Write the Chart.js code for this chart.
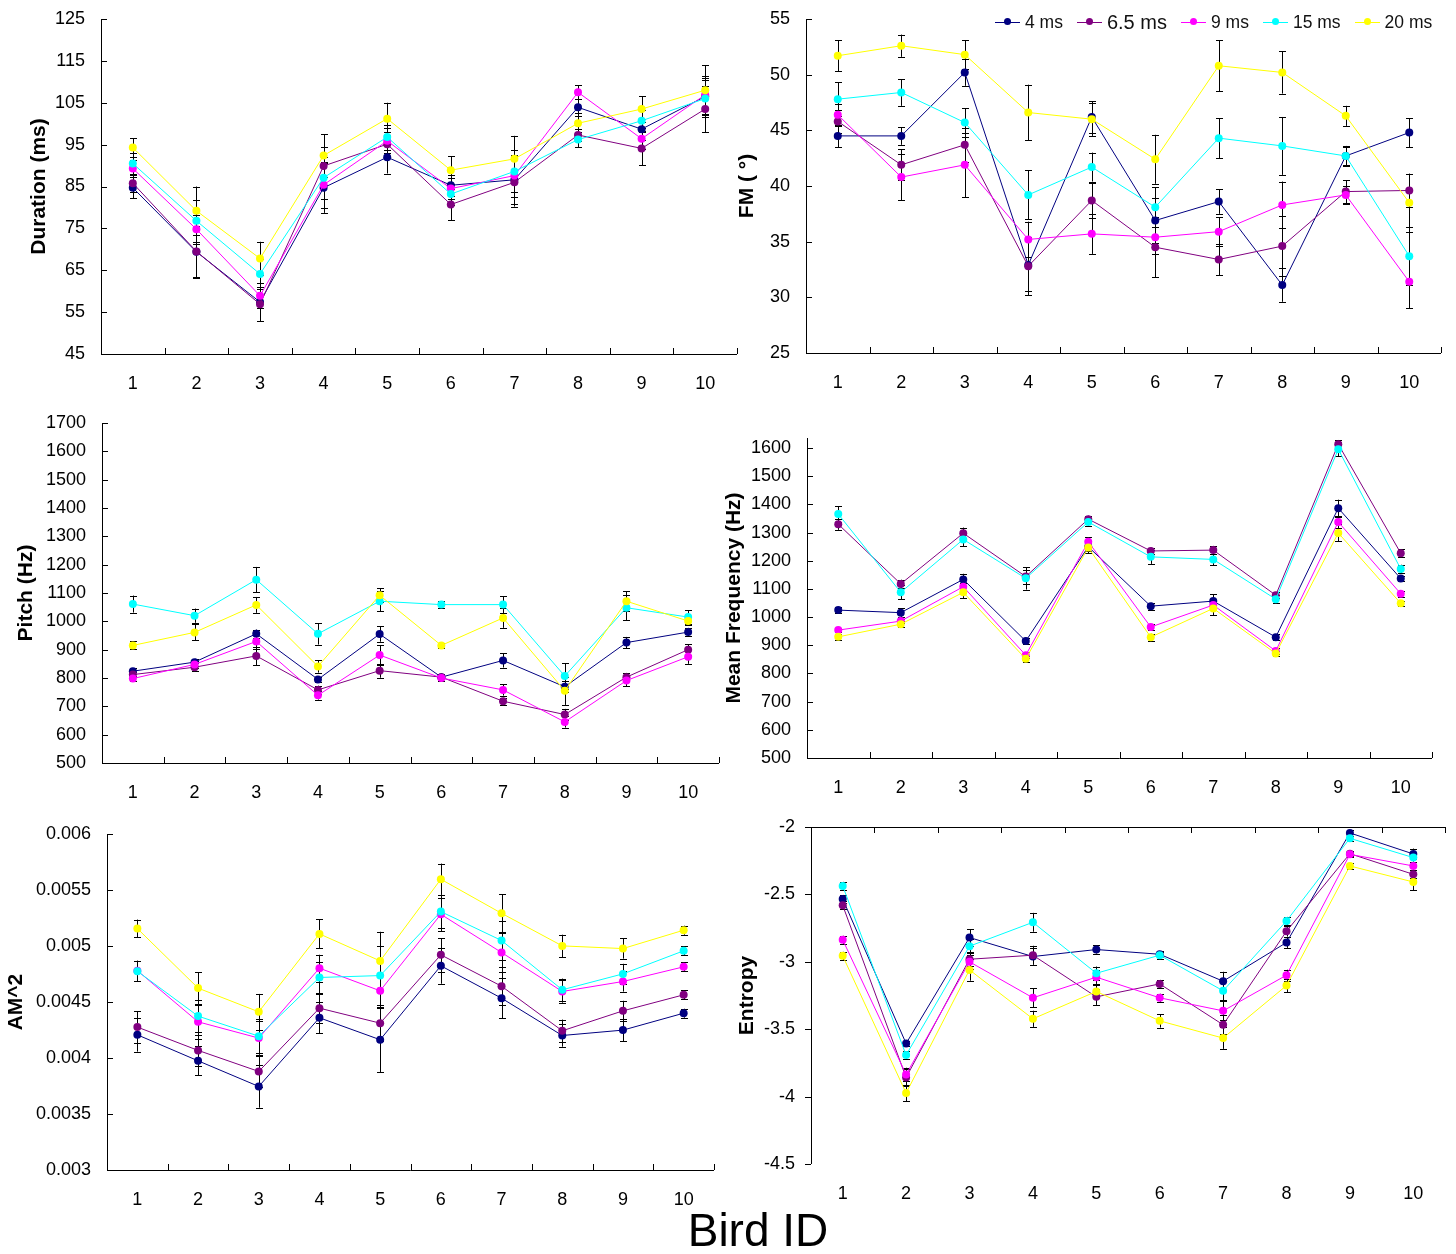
<!DOCTYPE html>
<html lang="en">
<head>
  <meta charset="UTF-8">
  <title>Song features by bird and delay</title>
  <script src="https://cdn.jsdelivr.net/npm/chart.js"></script>
  <style>
    body { margin: 0; background: #fff; font-family: "Liberation Sans", Arial, sans-serif; }
    #page { position: relative; width: 1456px; height: 1254px; overflow: hidden; }
    canvas { position: absolute; }
    #legend { position: absolute; left: 995px; top: 10px; display: flex; align-items: center; gap: 14px; z-index: 5; }
    .item { display: flex; align-items: center; gap: 5px; font-size: 17.5px; color: #111; }
    .mark { position: relative; width: 25px; height: 24px; }
    .mark .ln { position: absolute; left: 0; right: 0; top: 11.5px; height: 1px; }
    .mark .dt { position: absolute; left: 9px; top: 8px; width: 7px; height: 7px; border-radius: 50%; }
    #xtitle { position: absolute; left: 0; width: 1516px; top: 1207px; text-align: center; font-size: 46px; line-height: 46px; color: #000; z-index: 5; }
  </style>
</head>
<body>
<div id="page">
  <canvas id="cDuration" width="745" height="411" style="left:0px;top:-11px"></canvas>
  <canvas id="cFM" width="736" height="411" style="left:720px;top:-11px"></canvas>
  <canvas id="cPitch" width="745" height="412" style="left:0px;top:393px"></canvas>
  <canvas id="cMeanFreq" width="736" height="397" style="left:720px;top:408px"></canvas>
  <canvas id="cAM" width="745" height="426" style="left:0px;top:804px"></canvas>
  <canvas id="cEntropy" width="736" height="423" style="left:720px;top:797px"></canvas>
  <div id="legend"></div>
  <div id="xtitle">Bird ID</div>
</div>

<script>
  const birds = ["1", "2", "3", "4", "5", "6", "7", "8", "9", "10"];
  const seriesNames = ["4 ms", "6.5 ms", "9 ms", "15 ms", "20 ms"];
  const seriesColors = ["#000080", "#800080", "#ff00ff", "#00ffff", "#ffff00"];

  // rows: 4 ms, 6.5 ms, 9 ms, 15 ms, 20 ms
  const durationMean = [
    [84.7, 69.4, 57.4, 84.7, 92.0, 85.3, 86.6, 103.9, 98.7, 106.5],
    [85.8, 69.5, 56.9, 89.9, 95.1, 80.7, 86.0, 97.3, 94.1, 103.5],
    [89.3, 74.8, 58.9, 85.4, 95.9, 84.5, 87.6, 107.5, 96.4, 106.9],
    [90.5, 76.8, 64.1, 87.1, 96.8, 83.2, 88.6, 96.2, 100.7, 106.0],
    [94.3, 79.2, 67.8, 92.4, 101.2, 88.9, 91.6, 100.1, 103.5, 108.0]
  ];
  const durationErr = [
    [2.5, 6.2, 4.5, 6.0, 3.9, 2.5, 5.8, 2.0, 2.5, 4.5],
    [2.0, 6.0, 4.0, 4.5, 3.0, 3.7, 5.8, 1.5, 4.0, 5.5],
    [2.0, 3.5, 3.0, 5.5, 3.0, 2.5, 5.0, 1.7, 2.5, 4.5],
    [2.5, 5.0, 3.5, 5.0, 3.0, 2.5, 5.0, 1.8, 2.5, 4.5],
    [2.2, 5.8, 4.0, 5.1, 3.8, 3.3, 5.5, 2.5, 3.0, 5.9]
  ];

  const fmMean = [
    [44.5, 44.5, 50.2, 32.9, 46.2, 36.9, 38.6, 31.1, 42.7, 44.8],
    [45.8, 41.9, 43.7, 32.8, 38.7, 34.5, 33.4, 34.6, 39.5, 39.6],
    [46.4, 40.8, 41.9, 35.2, 35.7, 35.4, 35.9, 38.3, 39.2, 31.4],
    [47.8, 48.4, 45.7, 39.2, 41.7, 38.1, 44.3, 43.6, 42.7, 33.7],
    [51.7, 52.6, 51.8, 46.6, 46.0, 42.4, 50.8, 50.2, 46.3, 38.5]
  ];
  const fmErr = [
    [1.0, 0.8, 1.2, 2.3, 1.4, 2.0, 1.1, 1.5, 0.9, 1.3],
    [1.0, 1.4, 1.5, 2.6, 1.6, 2.7, 1.4, 2.7, 1.0, 1.5],
    [1.0, 2.1, 2.9, 1.6, 1.8, 1.5, 1.3, 2.1, 0.8, 2.4],
    [1.5, 1.2, 1.3, 2.2, 1.3, 1.8, 1.8, 2.6, 0.8, 2.6],
    [1.4, 1.0, 1.3, 2.5, 1.5, 2.2, 2.3, 1.9, 0.9, 2.6]
  ];

  const pitchMean = [
    [824, 856, 956, 795, 955, 803, 862, 769, 925, 962],
    [812, 838, 878, 758, 826, 803, 718, 671, 803, 900],
    [798, 848, 929, 739, 881, 800, 758, 645, 791, 875],
    [1061, 1020, 1147, 956, 1071, 1059, 1059, 807, 1048, 1015],
    [915, 961, 1058, 841, 1092, 915, 1012, 755, 1071, 1001]
  ];
  const pitchErr = [
    [10, 12, 15, 10, 27, 12, 25, 20, 20, 15],
    [10, 15, 33, 15, 25, 12, 12, 20, 15, 20],
    [10, 12, 25, 15, 35, 12, 20, 20, 20, 25],
    [30, 25, 45, 38, 35, 12, 30, 45, 45, 25],
    [14, 28, 28, 22, 25, 10, 35, 50, 35, 15]
  ];

  const meanFreqMean = [
    [1025, 1016, 1134, 915, 1250, 1039, 1057, 929, 1387, 1137],
    [1330, 1118, 1298, 1144, 1348, 1235, 1238, 1078, 1614, 1227],
    [954, 986, 1108, 865, 1268, 965, 1043, 880, 1338, 1083],
    [1366, 1088, 1276, 1138, 1338, 1214, 1205, 1064, 1596, 1171],
    [930, 975, 1088, 852, 1247, 929, 1031, 871, 1299, 1049]
  ];
  const meanFreqErr = [
    [10, 15, 20, 12, 15, 12, 25, 10, 30, 10],
    [20, 15, 20, 25, 12, 12, 15, 10, 15, 15],
    [8, 8, 15, 10, 15, 10, 15, 10, 20, 10],
    [28, 25, 25, 40, 15, 25, 20, 15, 25, 15],
    [10, 10, 20, 10, 20, 12, 25, 10, 30, 10]
  ];

  const amMean = [
    [0.004207, 0.003975, 0.003746, 0.004359, 0.004163, 0.004823, 0.004534, 0.004201, 0.004249, 0.004400],
    [0.004276, 0.004068, 0.003880, 0.004445, 0.004311, 0.004921, 0.004641, 0.004243, 0.004421, 0.004564],
    [0.004780, 0.004323, 0.004178, 0.004802, 0.004600, 0.005283, 0.004942, 0.004594, 0.004683, 0.004814],
    [0.004775, 0.004374, 0.004195, 0.004719, 0.004736, 0.005307, 0.005049, 0.004609, 0.004751, 0.004957],
    [0.005156, 0.004624, 0.004412, 0.005108, 0.004867, 0.005596, 0.005292, 0.005001, 0.004977, 0.005141]
  ];
  const amErr = [
    [0.00015, 0.00013, 0.00019, 0.00014, 0.00029, 0.00016, 0.00018, 0.00010, 0.00010, 0.00004],
    [0.00014, 0.00014, 0.00014, 0.00013, 0.00016, 0.00015, 0.00017, 0.00010, 0.00009, 0.00004],
    [0.00009, 0.00015, 0.00015, 0.00012, 0.00015, 0.00015, 0.00017, 0.00010, 0.00009, 0.00004],
    [0.00009, 0.00014, 0.00015, 0.00014, 0.00026, 0.00015, 0.00017, 0.00010, 0.00009, 0.00004],
    [0.00008, 0.00014, 0.00016, 0.00013, 0.00026, 0.00014, 0.00017, 0.00010, 0.00009, 0.00004]
  ];

  const entropyMean = [
    [-2.534, -3.606, -2.820, -2.961, -2.909, -2.944, -3.144, -2.857, -2.044, -2.200],
    [-2.581, -3.858, -2.981, -2.951, -3.260, -3.164, -3.467, -2.773, -2.198, -2.351],
    [-2.837, -3.836, -3.000, -3.267, -3.114, -3.267, -3.364, -3.099, -2.203, -2.289],
    [-2.437, -3.692, -2.884, -2.707, -3.085, -2.951, -3.215, -2.697, -2.084, -2.227],
    [-2.956, -3.974, -3.060, -3.423, -3.220, -3.438, -3.566, -3.176, -2.289, -2.408]
  ];
  const entropyErr = [
    [0.03, 0.02, 0.06, 0.06, 0.03, 0.02, 0.07, 0.04, 0.02, 0.04],
    [0.03, 0.06, 0.05, 0.07, 0.06, 0.03, 0.07, 0.04, 0.02, 0.03],
    [0.03, 0.05, 0.05, 0.07, 0.05, 0.03, 0.07, 0.04, 0.02, 0.03],
    [0.03, 0.03, 0.05, 0.07, 0.05, 0.03, 0.07, 0.03, 0.02, 0.03],
    [0.03, 0.06, 0.08, 0.06, 0.05, 0.05, 0.08, 0.05, 0.02, 0.06]
  ];

  Chart.defaults.font.family = '"Liberation Sans", Arial, sans-serif';
  Chart.defaults.color = "#000";

  // black error bars with caps, drawn under the lines and markers
  const errorBars = {
    id: "errorBars",
    beforeDatasetsDraw(chart, args, opts) {
      const ctx = chart.ctx;
      const y = chart.scales.y;
      ctx.save();
      ctx.strokeStyle = "#000";
      ctx.lineWidth = 1;
      chart.data.datasets.forEach((ds, di) => {
        const meta = chart.getDatasetMeta(di);
        const errs = opts.errors[di];
        meta.data.forEach((pt, i) => {
          const v = ds.data[i];
          const x = Math.round(pt.x) + 0.5;
          const top = y.getPixelForValue(v + errs[i]);
          const bot = y.getPixelForValue(v - errs[i]);
          ctx.beginPath();
          ctx.moveTo(x, top); ctx.lineTo(x, bot);
          ctx.moveTo(x - 3.5, Math.round(top) + 0.5); ctx.lineTo(x + 3.5, Math.round(top) + 0.5);
          ctx.moveTo(x - 3.5, Math.round(bot) + 0.5); ctx.lineTo(x + 3.5, Math.round(bot) + 0.5);
          ctx.stroke();
        });
      });
      ctx.restore();
    }
  };

  // axis lines with short tick marks, Excel style
  const axisLines = {
    id: "axisLines",
    afterDraw(chart, args, opts) {
      const {ctx, chartArea: a, scales: {x, y}} = chart;
      const lineY = opts.xAtTop ? a.top : a.bottom;
      const xDir = opts.xAtTop ? 1 : -1;
      const yDir = opts.yTicksOut ? -1 : 1;
      ctx.save();
      ctx.strokeStyle = "#000";
      ctx.lineWidth = 1;
      ctx.beginPath();
      ctx.moveTo(Math.round(a.left) + 0.5, a.top);
      ctx.lineTo(Math.round(a.left) + 0.5, a.bottom);
      ctx.moveTo(a.left, Math.round(lineY) + 0.5);
      ctx.lineTo(a.right, Math.round(lineY) + 0.5);
      y.ticks.forEach(t => {
        const py = Math.round(y.getPixelForValue(t.value)) + 0.5;
        ctx.moveTo(a.left, py);
        ctx.lineTo(a.left + yDir * 6, py);
      });
      const n = x.getLabels().length;
      for (let i = 1; i <= n; i++) {
        const px = Math.round(x.getPixelForValue(i - 0.5)) + 0.5;
        ctx.moveTo(px, lineY);
        ctx.lineTo(px, lineY + xDir * 6);
      }
      ctx.stroke();
      ctx.restore();
    }
  };

  function makePanel(canvasId, means, errs, cfg) {
    const datasets = means.map((row, i) => ({
      label: seriesNames[i],
      data: row,
      borderColor: seriesColors[i],
      backgroundColor: seriesColors[i],
      borderWidth: 1,
      pointRadius: 4,
      pointBorderWidth: 0,
      tension: 0,
      order: 4 - i
    }));
    return new Chart(document.getElementById(canvasId), {
      type: "line",
      data: { labels: birds, datasets: datasets },
      plugins: [errorBars, axisLines],
      options: {
        responsive: false,
        animation: false,
        layout: { autoPadding: false, padding: cfg.padding },
        plugins: {
          legend: { display: false },
          tooltip: { enabled: false },
          errorBars: { errors: errs },
          axisLines: { xAtTop: !!cfg.xAtTop, yTicksOut: !!cfg.yTicksOut }
        },
        scales: {
          x: {
            offset: true,
            grid: { display: false },
            border: { display: false },
            ticks: { font: { size: 18 }, padding: 11, maxRotation: 0, autoSkip: false },
            afterFit: s => { s.height = cfg.xHeight; }
          },
          y: {
            min: cfg.min,
            max: cfg.max,
            grid: { display: false },
            border: { display: false },
            // fixed tick set from min in steps, up to the highest value not above max
            afterBuildTicks: s => {
              const ticks = [];
              const n = Math.floor((cfg.max - cfg.min) / cfg.step + 1e-6);
              for (let k = 0; k <= n; k++) ticks.push({ value: +(cfg.min + k * cfg.step).toFixed(6) });
              s.ticks = ticks;
            },
            ticks: { font: { size: 18 }, padding: 8, callback: cfg.fmt || (v => String(v)) },
            title: {
              display: true,
              text: cfg.title,
              font: { size: 21, weight: "bold" },
              padding: { top: cfg.titlePad, bottom: 0 }
            },
            afterFit: s => { s.width = cfg.yWidth; }
          }
        }
      }
    });
  }

  makePanel("cDuration", durationMean, durationErr, {
    min: 45, max: 125, step: 10, title: "Duration (ms)", titlePad: 27,
    yWidth: 101, xHeight: 46, padding: { left: 0, top: 30, right: 8, bottom: 0 }
  });
  makePanel("cFM", fmMean, fmErr, {
    min: 25, max: 55, step: 5, title: "FM ( \u00b0)", titlePad: 15,
    yWidth: 86, xHeight: 47, padding: { left: 0, top: 30, right: 15, bottom: 0 }
  });
  makePanel("cPitch", pitchMean, pitchErr, {
    min: 500, max: 1700, step: 100, title: "Pitch (Hz)", titlePad: 14,
    yWidth: 102, xHeight: 42, padding: { left: 0, top: 30, right: 26, bottom: 0 }
  });
  makePanel("cMeanFreq", meanFreqMean, meanFreqErr, {
    min: 500, max: 1636, step: 100, title: "Mean Frequency (Hz)", titlePad: 2,
    yWidth: 87, xHeight: 47, padding: { left: 0, top: 30, right: 24, bottom: 0 }
  });
  makePanel("cAM", amMean, amErr, {
    min: 0.003, max: 0.006, step: 0.0005, title: "AM^2", titlePad: 4,
    fmt: v => String(+v.toFixed(4)),
    yWidth: 107, xHeight: 60, padding: { left: 0, top: 30, right: 31, bottom: 0 }
  });
  makePanel("cEntropy", entropyMean, entropyErr, {
    min: -4.5, max: -2, step: 0.5, title: "Entropy", titlePad: 15,
    fmt: v => String(+v.toFixed(1)), xAtTop: true, yTicksOut: true,
    yWidth: 91, xHeight: 56, padding: { left: 0, top: 30, right: 11, bottom: 0 }
  });

  // legend for the delay series
  const legend = document.getElementById("legend");
  seriesNames.forEach((name, i) => {
    const item = document.createElement("div");
    item.className = "item";
    if (name === "6.5 ms") item.style.fontSize = "20px";
    item.innerHTML = `<span class="mark"><span class="ln" style="background:${seriesColors[i]}"></span>` +
      `<span class="dt" style="background:${seriesColors[i]}"></span></span><span>${name}</span>`;
    legend.appendChild(item);
  });
</script>
</body>
</html>
